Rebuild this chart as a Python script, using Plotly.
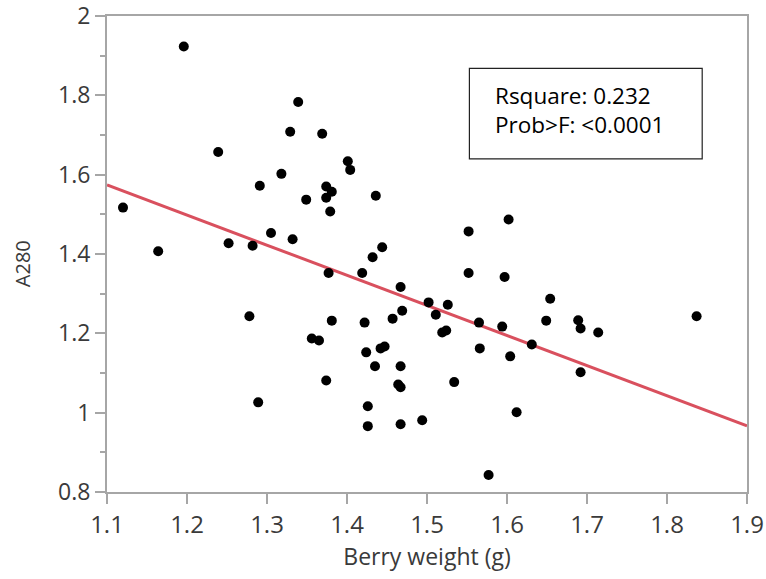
import plotly.graph_objects as go

# Berry weight (g) and A280 values
berry_weight = [1.120, 1.164, 1.196, 1.239, 1.252, 1.278, 1.282, 1.289, 1.291, 1.305,
                1.318, 1.329, 1.332, 1.339, 1.349, 1.356, 1.365, 1.369, 1.374, 1.374,
                1.374, 1.377, 1.379, 1.381, 1.381, 1.401, 1.404, 1.419, 1.422, 1.424,
                1.426, 1.426, 1.432, 1.435, 1.436, 1.442, 1.444, 1.447, 1.457, 1.464,
                1.467, 1.467, 1.467, 1.467, 1.469, 1.494, 1.502, 1.511, 1.519, 1.524,
                1.526, 1.534, 1.552, 1.552, 1.565, 1.566, 1.577, 1.594, 1.597, 1.602,
                1.604, 1.612, 1.631, 1.649, 1.654, 1.689, 1.692, 1.692, 1.714, 1.837]
a280 = [1.517, 1.407, 1.923, 1.657, 1.427, 1.243, 1.421, 1.026, 1.572, 1.453,
        1.602, 1.708, 1.437, 1.783, 1.537, 1.187, 1.182, 1.703, 1.570, 1.542,
        1.081, 1.352, 1.507, 1.557, 1.232, 1.634, 1.612, 1.352, 1.227, 1.152,
        1.016, 0.966, 1.392, 1.117, 1.547, 1.162, 1.417, 1.167, 1.237, 1.071,
        1.064, 1.117, 1.317, 0.971, 1.257, 0.981, 1.278, 1.247, 1.202, 1.207,
        1.272, 1.077, 1.457, 1.352, 1.227, 1.162, 0.843, 1.217, 1.342, 1.487,
        1.142, 1.001, 1.172, 1.232, 1.287, 1.233, 1.212, 1.102, 1.202, 1.243]

# Fitted line endpoints
fit_x = [1.1, 1.9]
fit_y = [1.574, 0.967]

stats_lines = ["Rsquare: 0.232", "Prob>F: <0.0001"]

x_range = [1.1, 1.9]
y_range = [0.8, 2.0]
y_ticks = [0.8, 1.0, 1.2, 1.4, 1.6, 1.8, 2.0]
y_ticktext = ["0.8", "1", "1.2", "1.4", "1.6", "1.8", "2"]
x_ticks = [1.1, 1.2, 1.3, 1.4, 1.5, 1.6, 1.7, 1.8, 1.9]
x_ticktext = ["1.1", "1.2", "1.3", "1.4", "1.5", "1.6", "1.7", "1.8", "1.9"]

font_family = "Open Sans, Noto Sans, DejaVu Sans, sans-serif"
text_color = "#3a3a3a"
axis_color = "#a6a6a6"

fig = go.Figure()
fig.add_trace(go.Scatter(
    x=fit_x, y=fit_y, mode="lines",
    line=dict(color="#d9505e", width=3),
    hoverinfo="skip", showlegend=False,
))
fig.add_trace(go.Scatter(
    x=berry_weight, y=a280, mode="markers",
    marker=dict(color="black", size=10, line=dict(width=0)),
    showlegend=False,
))

# statistics box
fig.add_shape(type="rect", xref="x", yref="y",
              x0=1.553, x1=1.844, y0=1.640, y1=1.868,
              line=dict(color="#222222", width=1.2), fillcolor="white", layer="above")
fig.add_annotation(xref="x", yref="y", x=1.582, y=1.762,
                   xanchor="left", yanchor="middle", align="left",
                   text="<br>".join(stats_lines), showarrow=False,
                   font=dict(family=font_family, size=22.5, color="black"))

# y-axis title
fig.add_annotation(xref="paper", yref="paper", x=-0.131, y=0.479,
                   xanchor="center", yanchor="middle", textangle=-90,
                   text="A280", showarrow=False,
                   font=dict(family=font_family, size=20, color=text_color))

fig.update_layout(
    width=766, height=579,
    margin=dict(l=107, r=19, t=16, b=87, autoexpand=False),
    paper_bgcolor="white", plot_bgcolor="white",
    font=dict(family=font_family, color=text_color),
    xaxis=dict(
        range=x_range, tickmode="array", tickvals=x_ticks, ticktext=x_ticktext,
        showgrid=False, zeroline=False, automargin=False, ticklabeloverflow="allow",
        showline=True, linecolor=axis_color, linewidth=2, mirror=True,
        ticks="outside", ticklen=10, tickwidth=2, tickcolor=axis_color,
        tickfont=dict(size=24, color=text_color),
        title=dict(text="Berry weight (g)", font=dict(size=23, color=text_color), standoff=10),
    ),
    yaxis=dict(
        range=y_range, tickmode="array", tickvals=y_ticks, ticktext=y_ticktext,
        showgrid=False, zeroline=False, automargin=False, ticklabeloverflow="allow",
        showline=True, linecolor=axis_color, linewidth=2, mirror=True,
        ticks="outside", ticklen=10, tickwidth=2, tickcolor=axis_color,
        tickfont=dict(size=23, color=text_color),
        minor=dict(dtick=0.1, tick0=0.8, ticks="outside", ticklen=5, tickwidth=1.5,
                   tickcolor=axis_color, showgrid=False),
    ),
)

fig.write_html("out.html")
